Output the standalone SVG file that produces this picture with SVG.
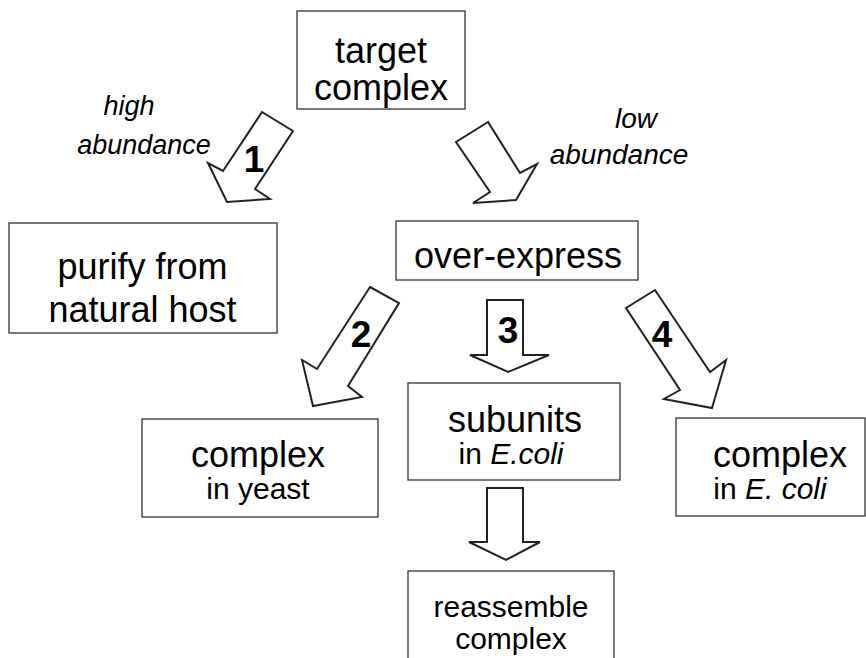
<svg xmlns="http://www.w3.org/2000/svg" width="866" height="658" viewBox="0 0 866 658">
<style>
.box{fill:#fff;stroke:#333;stroke-width:1.3}
.arr{fill:#fff;stroke:#222;stroke-width:2;stroke-linejoin:miter}
.t{font-family:"Liberation Sans",Arial,sans-serif;fill:#000;text-anchor:middle}
.big{font-size:36px}
.sm{font-size:30px}
.it{font-style:italic;font-family:"Liberation Sans",Arial,sans-serif;text-anchor:middle}
.num{font-family:"Liberation Sans",Arial,sans-serif;font-weight:bold;font-size:37px;text-anchor:middle}
</style>
<rect width="866" height="658" fill="#fff"/>
<g id="connectors">
<polygon class="arr" points="262,112 293,131 255,189 270,199 227,202 208,163 223,171"/>
<polygon class="arr" points="488,122 456,142 490,192 473,203 516,200 537,164 520,173"/>
<polygon class="arr" points="370,287 399,303 348,386 362,397 313,406 302,360 317,369"/>
<polygon class="arr" points="487,300 523,300 523,355 549,355 508,372 470,355 487,355"/>
<polygon class="arr" points="655,290 626,308 680,390 664,399 712,408 726,360 710,372"/>
<polygon class="arr" points="487,488 523,488 523,542 540,542 506,560 469,542 487,542"/>
<text class="num" x="254" y="172">1</text>
<text class="num" x="361" y="347">2</text>
<text class="num" x="508" y="343">3</text>
<text class="num" x="662" y="347">4</text>
</g>
<g id="label-high">
<text class="it" font-size="27" x="129" y="115">high</text>
<text class="it" font-size="27" x="144" y="154">abundance</text>
</g>
<g id="label-low">
<text class="it" font-size="28" x="636" y="128">low</text>
<text class="it" font-size="28" x="619" y="164">abundance</text>
</g>
<g id="target">
<rect class="box" x="297" y="11" width="168" height="98"/>
<text class="t big" x="381" y="63">target</text>
<text class="t big" x="381" y="100">complex</text>
</g>
<g id="purify">
<rect class="box" x="9" y="223" width="268" height="110"/>
<text class="t big" x="142.5" y="279">purify from</text>
<text class="t big" x="142.5" y="322">natural host</text>
</g>
<g id="overexpress">
<rect class="box" x="396" y="221" width="242" height="59"/>
<text class="t big" x="518" y="268">over-express</text>
</g>
<g id="yeast">
<rect class="box" x="142" y="419" width="236" height="98"/>
<text class="t big" x="258" y="467">complex</text>
<text class="t sm" x="258" y="499">in yeast</text>
</g>
<g id="subunits">
<rect class="box" x="408" y="383" width="212" height="97"/>
<text class="t big" x="515" y="432">subunits</text>
<text class="t sm" x="511" y="464">in <tspan font-style="italic">E.coli</tspan></text>
</g>
<g id="ecoli">
<rect class="box" x="676" y="418" width="189" height="98"/>
<text class="t big" x="780" y="467">complex</text>
<text class="t sm" x="770" y="499">in <tspan font-style="italic">E. coli</tspan></text>
</g>
<g id="reassemble">
<rect class="box" x="408" y="571" width="206" height="100"/>
<text class="t" font-size="30" x="511" y="617">reassemble</text>
<text class="t" font-size="30" x="511" y="649">complex</text>
</g>
</svg>
